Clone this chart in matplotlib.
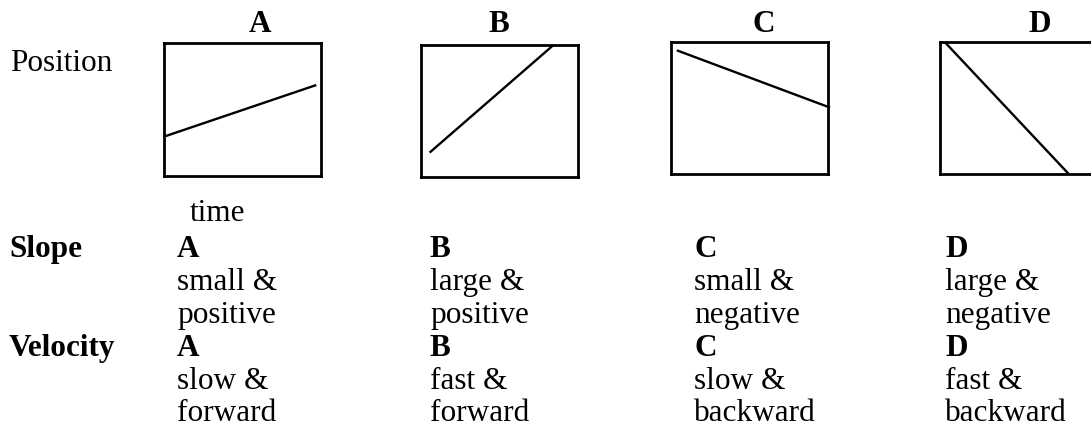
import matplotlib
matplotlib.use("Agg")
import matplotlib.pyplot as plt

plt.rcParams['font.family'] = ['Liberation Serif', 'DejaVu Serif']

# position-vs-time sketches, values as fractions of each box (time, position)
panels = ['A', 'B', 'C', 'D']
time_start = [0.01, 0.055, 0.037, 0.03]
time_end = [0.97, 0.844, 1.013, 0.82]
pos_start = [0.30, 0.185, 0.937, 1.0]
pos_end = [0.684, 1.0, 0.503, 0.0]

slope_text = [('small &', 'positive'), ('large &', 'positive'),
              ('small &', 'negative'), ('large &', 'negative')]
velocity_text = [('slow &', 'forward'), ('fast &', 'forward'),
                 ('slow &', 'backward'), ('fast &', 'backward')]

W, H = 1091, 440
fig = plt.figure(figsize=(W / 100, H / 100), dpi=100)

# background axes in pixel units, only used for placing the text
bg = fig.add_axes([0, 0, 1, 1])
bg.set_xlim(0, W)
bg.set_ylim(H, 0)
bg.axis('off')

box_left = [164, 421, 671, 940]
box_top = [43, 45, 42, 42]
box_bottom = [176, 177, 174, 174]
box_w = 157
title_x = [260, 499, 764, 1040]
col_x = [177, 430, 694, 945]

fs = 22.5

for i, name in enumerate(panels):
    l = box_left[i] / W
    b = 1 - box_bottom[i] / H
    h = (box_bottom[i] - box_top[i]) / H
    ax = fig.add_axes([l, b, box_w / W, h])
    ax.set_xlim(0, 1)
    ax.set_ylim(0, 1)
    ax.set_xticks([])
    ax.set_yticks([])
    for s in ax.spines.values():
        s.set_linewidth(2.0)
    ax.plot([time_start[i], time_end[i]], [pos_start[i], pos_end[i]],
            color='black', linewidth=1.7, clip_on=False, solid_capstyle='butt')
    bg.text(title_x[i], 32, name, fontsize=fs, fontweight='bold',
            ha='center', va='baseline')

bg.text(10, 71, 'Position', fontsize=fs, va='baseline')
bg.text(190, 221, 'time', fontsize=fs, va='baseline')

rows = [257, 290, 323, 356, 389, 421]
bg.text(9, rows[0], 'Slope', fontsize=fs, fontweight='bold', va='baseline')
bg.text(9, rows[3], 'Velocity', fontsize=fs, fontweight='bold', va='baseline')
for i, name in enumerate(panels):
    x = col_x[i]
    bg.text(x, rows[0], name, fontsize=fs, fontweight='bold', va='baseline')
    bg.text(x, rows[1], slope_text[i][0], fontsize=fs, va='baseline')
    bg.text(x, rows[2], slope_text[i][1], fontsize=fs, va='baseline')
    bg.text(x, rows[3], name, fontsize=fs, fontweight='bold', va='baseline')
    bg.text(x, rows[4], velocity_text[i][0], fontsize=fs, va='baseline')
    bg.text(x, rows[5], velocity_text[i][1], fontsize=fs, va='baseline')

fig.savefig('out.png', dpi=100)
